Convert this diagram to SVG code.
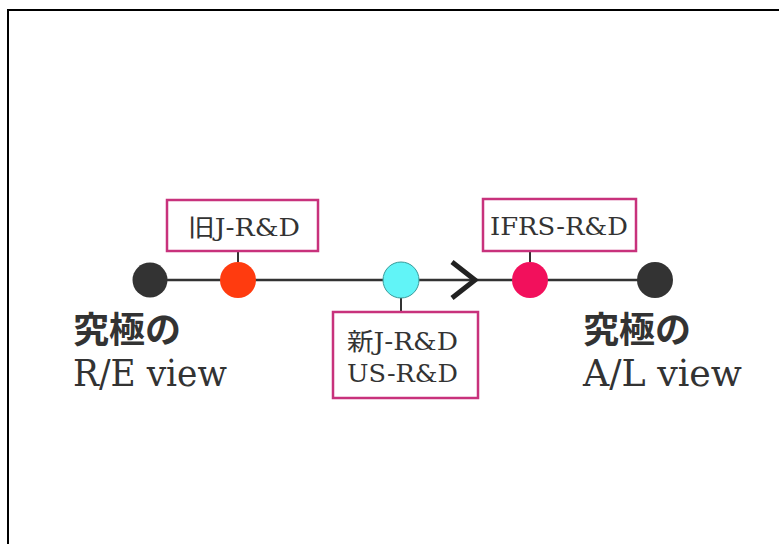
<svg xmlns="http://www.w3.org/2000/svg" width="779" height="544" viewBox="0 0 779 544">
<style>
.lbl{fill:#fff;stroke:#c8327c;stroke-width:2.5}
.tick{stroke:#333;stroke-width:2}
.t{font-family:"DejaVu Serif","Noto Sans CJK JP",serif;font-size:24px;fill:#333}
.big{font-family:"DejaVu Serif","Noto Sans CJK JP",serif;font-size:38px;fill:#333}
.jp{font-family:"Noto Sans CJK JP",sans-serif;font-weight:bold;font-size:36px;fill:#333}
.end{fill:#333}
</style>
<rect width="779" height="544" fill="#fff"/>
<path d="M8,544 V10 H779" fill="none" stroke="#000" stroke-width="2"/>
<g id="connectors">
<line x1="150" y1="280" x2="655" y2="280" stroke="#333" stroke-width="2.5"/>
<polyline points="452,262 475,280 452,298" fill="none" stroke="#222" stroke-width="5"/>
<line class="tick" x1="238" y1="251" x2="238" y2="262"/>
<line class="tick" x1="401" y1="298" x2="401" y2="312"/>
<line class="tick" x1="530" y1="251" x2="530" y2="262"/>
</g>
<g id="start">
<circle class="end" cx="150" cy="280" r="17.5"/>
<text class="jp" x="73" y="343">究極の</text>
<text class="big" x="73" y="386" textLength="154" lengthAdjust="spacingAndGlyphs">R/E view</text>
</g>
<g id="old-j">
<circle cx="238" cy="280" r="18" fill="#ff3b0f"/>
<rect class="lbl" x="167" y="200" width="151" height="51"/>
<text class="t" x="188" y="236" textLength="112" lengthAdjust="spacingAndGlyphs">旧J-R&amp;D</text>
</g>
<g id="new-j">
<circle cx="401" cy="280" r="18" fill="#61f4f7" stroke="#3a9a9a" stroke-width="1"/>
<rect class="lbl" x="333" y="312" width="145" height="86"/>
<text class="t" x="347" y="350" textLength="111" lengthAdjust="spacingAndGlyphs">新J-R&amp;D</text>
<text class="t" x="347" y="382" textLength="111" lengthAdjust="spacingAndGlyphs">US-R&amp;D</text>
</g>
<g id="ifrs">
<circle cx="530" cy="280" r="18" fill="#f2105c"/>
<rect class="lbl" x="483" y="199" width="153" height="52"/>
<text class="t" x="490" y="235" textLength="138" lengthAdjust="spacingAndGlyphs">IFRS-R&amp;D</text>
</g>
<g id="end">
<circle class="end" cx="655" cy="280" r="18"/>
<text class="jp" x="583" y="343">究極の</text>
<text class="big" x="583" y="386" textLength="159" lengthAdjust="spacingAndGlyphs">A/L view</text>
</g>
</svg>
